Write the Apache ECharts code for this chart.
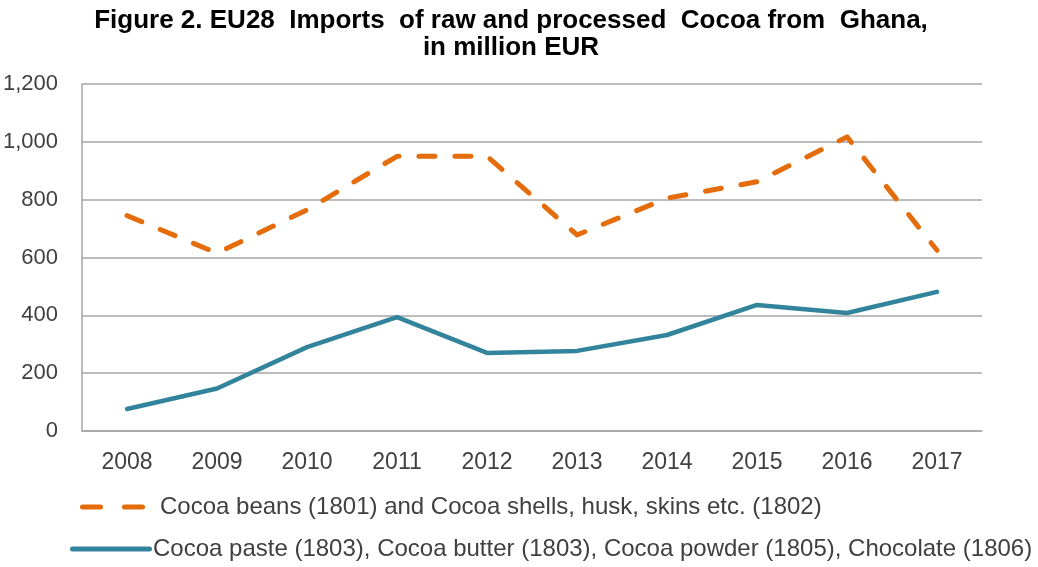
<!DOCTYPE html>
<html>
<head>
<meta charset="utf-8">
<script src="https://cdn.jsdelivr.net/npm/echarts@6/dist/echarts.min.js"></script>
<style>html,body{margin:0;padding:0;background:#fff}#c{width:1038px;height:567px}</style>
</head>
<body>
<div id="c"></div>
<script>
const years = ['2008','2009','2010','2011','2012','2013','2014','2015','2016','2017'];
const beansName = 'Cocoa beans (1801) and Cocoa shells, husk, skins etc. (1802)';
const beans = [745, 615, 765, 950, 950, 678, 805, 862, 1017, 625];
const processedName = 'Cocoa paste (1803), Cocoa butter (1803), Cocoa powder (1805), Chocolate (1806)';
const processed = [76, 147, 290, 394, 270, 277, 332, 436, 408, 481];
const yTicks = {min: 0, max: 1200, interval: 200};

const dashIcon = 'path://M2.5,0 H20.5 A2.5,2.5 0 0 1 20.5,5 H2.5 A2.5,2.5 0 0 1 2.5,0 Z M44.5,0 H62.5 A2.5,2.5 0 0 1 62.5,5 H44.5 A2.5,2.5 0 0 1 44.5,0 Z';
const solidIcon = 'path://M2.5,0 H79.5 A2.5,2.5 0 0 1 79.5,5 H2.5 A2.5,2.5 0 0 1 2.5,0 Z';

const chart = echarts.init(document.getElementById('c'));
chart.setOption({
  animation: false,
  title: {
    text: 'Figure 2. EU28  Imports  of raw and processed  Cocoa from  Ghana,\nin million EUR',
    left: 506, textAlign: 'center', top: 2,
    textStyle: {fontFamily: 'Liberation Sans Narrow, Liberation Sans, Arial', fontWeight: 'bold', fontSize: 26, color: '#000', lineHeight: 27}
  },
  grid: {left: 82, right: 56, top: 84, bottom: 136, containLabel: false},
  legend: [{
    data: [{name: beansName, icon: dashIcon}], left: 80, top: 495, padding: 0,
    itemWidth: 65, itemHeight: 5, itemGap: 0,
    textStyle: {fontFamily: 'Liberation Sans, Arial', fontSize: 24, color: '#404040', padding: [0,0,0,10]}
  }, {
    data: [{name: processedName, icon: solidIcon}], left: 70, top: 537, padding: 0,
    itemWidth: 82, itemHeight: 5, itemGap: 0,
    textStyle: {fontFamily: 'Liberation Sans, Arial', fontSize: 24, color: '#404040', padding: [0,0,0,-4]}
  }],
  xAxis: {
    type: 'category', data: years, boundaryGap: true,
    axisLine: {lineStyle: {color: '#a6a6a6', width: 1.5}},
    axisTick: {show: false},
    axisLabel: {fontFamily: 'Liberation Sans, Arial', fontSize: 23, color: '#404040', margin: 20}
  },
  yAxis: {
    type: 'value', min: yTicks.min, max: yTicks.max, interval: yTicks.interval,
    axisLine: {show: true, lineStyle: {color: '#a6a6a6', width: 1.5}},
    axisTick: {show: false},
    splitLine: {lineStyle: {color: '#a6a6a6', width: 1.5}},
    axisLabel: {fontFamily: 'Liberation Sans, Arial', fontSize: 22, color: '#404040', margin: 24,
      formatter: v => v.toLocaleString('en-US')}
  },
  series: [{
    name: beansName, type: 'line', data: beans, symbol: 'none',
    lineStyle: {color: '#E46C0A', width: 5, type: [16, 20], cap: 'round', join: 'round'},
    itemStyle: {color: '#E46C0A'}
  }, {
    name: processedName, type: 'line', data: processed, symbol: 'none',
    lineStyle: {color: '#31849B', width: 4.5, cap: 'round', join: 'round'},
    itemStyle: {color: '#31849B'}
  }]
});
</script>
</body>
</html>
